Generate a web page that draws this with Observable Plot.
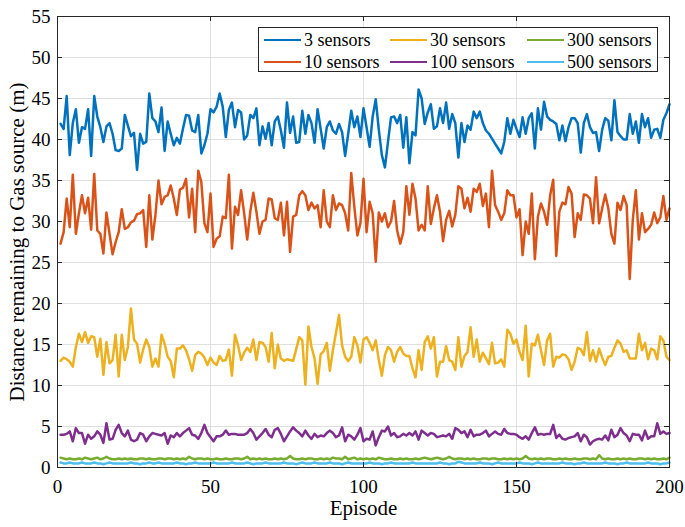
<!DOCTYPE html>
<html><head><meta charset="utf-8">
<script src="https://cdn.jsdelivr.net/npm/d3@7"></script>
<script src="https://cdn.jsdelivr.net/npm/@observablehq/plot@0.6"></script>
<style>
body{margin:0;background:#fff;}
#wrap{position:relative;width:685px;height:527px;}
#wrap svg text{font-family:"Liberation Serif","Times New Roman",serif;}
#legend{position:absolute;left:258px;top:27px;width:400px;height:45px;border:1px solid #262626;background:#fff;box-sizing:border-box;font-family:"Liberation Serif",serif;font-size:18px;color:#000;}
.item{position:absolute;display:flex;align-items:center;height:20px;white-space:nowrap;}
.sw{width:37px;height:0;border-top:2px solid;margin-right:3px;}
</style></head>
<body><div id="wrap"></div>
<script>
const seriesNames = ["3 sensors","10 sensors","30 sensors","100 sensors","300 sensors","500 sensors"];
const colors = ["#0072BD","#D95319","#EDB120","#7E2F8E","#77AC30","#4DBEEE"];
const xTicks = [0,50,100,150,200];
const yTicks = [0,5,10,15,20,25,30,35,40,45,50,55];
const xLabel = ["Episode"];
const yLabel = ["Distance remaining to Gas source (m)"];

const s3 = [41.9,41.3,45.3,38.1,42.0,43.7,39.6,41.5,41.3,43.7,38.0,45.3,42.8,41.5,39.7,41.6,42.0,40.7,38.7,38.6,38.9,43.0,41.7,40.4,40.8,36.3,40.7,39.5,39.7,45.6,42.6,42.2,40.9,43.9,38.6,42.2,40.7,39.3,40.2,39.5,41.3,43.0,42.9,41.1,40.9,43.0,38.3,39.3,40.7,
43.7,43.3,44.0,45.6,44.0,40.3,43.6,44.5,41.5,43.6,43.3,40.0,40.5,43.0,42.6,43.8,39.3,41.6,40.1,42.0,39.3,42.2,42.8,41.1,39.0,44.5,40.8,42.8,39.6,39.7,43.5,40.7,43.0,42.0,39.6,43.7,41.3,38.9,41.5,42.2,41.1,40.7,41.9,40.9,38.0,40.7,43.5,41.5,42.8,40.3,43.8,
41.5,39.1,42.8,44.9,41.2,38.1,36.6,39.7,42.7,42.8,42.0,43.0,39.0,42.7,37.1,40.9,40.5,46.1,45.0,41.9,43.3,44.3,41.3,41.6,43.8,42.0,44.5,41.3,43.1,42.0,37.8,42.0,39.7,41.7,41.2,43.4,42.6,43.4,42.0,41.1,40.7,40.1,39.5,38.9,38.3,39.7,42.6,40.7,42.4,41.3,
40.3,
42.7,40.7,42.6,43.2,38.9,43.8,41.2,44.6,42.8,42.4,42.2,41.9,39.9,41.7,39.8,41.5,42.6,42.6,42.0,38.4,42.0,43.1,41.5,40.8,40.9,38.6,41.2,42.6,42.3,39.9,44.8,40.9,40.4,40.0,40.0,43.1,40.7,42.2,39.6,43.1,41.5,42.6,40.2,41.2,41.3,40.2,42.4,43.2,44.3];

const s10 = [27.3,28.7,32.8,29.3,35.7,28.5,31.0,33.2,31.0,32.9,29.0,35.8,28.9,28.5,26.1,31.1,28.5,26.0,27.5,28.7,31.5,29.1,29.3,29.9,30.1,30.9,31.0,31.4,26.9,33.2,27.8,30.8,35.0,32.1,33.0,33.2,34.4,32.8,30.8,33.9,34.1,35.2,30.5,34.0,28.7,36.2,34.8,29.8,28.7,
33.4,26.9,27.9,28.2,30.6,30.4,35.7,26.7,31.8,30.8,33.8,31.0,27.8,31.2,33.5,31.2,28.5,30.0,30.2,32.8,32.7,30.4,30.2,32.3,28.3,32.4,26.3,30.6,30.8,33.2,33.7,33.2,31.4,32.3,31.6,32.0,29.3,33.8,30.0,29.3,33.2,31.4,32.2,32.0,31.0,28.9,35.9,31.8,28.3,29.8,35.2,
28.7,32.4,31.0,25.1,31.1,30.0,31.0,29.3,30.0,32.5,28.9,27.3,28.7,34.3,30.8,34.6,32.8,28.9,29.6,28.9,34.3,29.7,31.6,33.2,31.2,27.6,30.2,31.3,29.4,30.8,34.3,34.0,31.6,32.9,31.2,34.0,33.6,34.6,31.9,33.4,29.3,36.2,32.0,31.2,30.2,31.0,33.8,33.2,33.2,30.5,31.5,
25.9,30.0,28.5,33.4,25.4,30.6,32.2,31.2,29.6,33.2,35.1,25.8,31.2,32.3,32.1,34.2,33.4,28.1,31.0,30.2,33.3,33.2,32.8,29.8,35.4,29.8,31.6,33.3,31.6,28.5,27.3,32.3,31.4,33.1,32.0,23.0,30.2,33.8,27.8,31.0,28.7,29.1,29.6,31.1,29.8,30.5,33.1,30.2,31.6];

const s30 = [13.0,13.4,13.2,12.9,12.3,14.7,16.3,15.3,16.5,15.2,16.0,15.9,13.5,15.7,11.3,15.3,12.7,13.1,16.2,11.1,16.2,13.1,14.7,19.4,15.6,15.1,12.8,14.4,15.6,14.7,12.3,13.3,12.3,16.2,15.1,13.5,13.0,11.0,14.5,14.5,14.9,14.3,13.2,11.8,13.7,14.1,13.9,13.4,12.5,
13.4,12.8,12.5,13.6,13.0,13.1,14.4,11.2,16.2,14.9,13.1,14.0,14.6,14.1,15.6,13.1,15.3,15.2,14.7,12.9,16.4,12.1,15.0,13.3,13.0,13.2,13.1,13.0,14.4,15.9,15.5,10.1,17.2,14.7,13.3,10.2,13.8,14.2,15.2,11.8,14.3,16.4,18.6,14.9,13.5,13.0,13.5,15.9,14.9,12.8,15.6,
15.9,15.2,14.3,15.5,13.1,11.2,13.7,14.7,14.3,12.9,14.1,14.7,13.9,13.6,13.6,12.1,11.0,14.3,11.9,15.3,16.0,14.5,15.9,11.1,12.9,12.9,14.8,13.1,12.9,11.9,15.9,12.3,13.6,14.1,17.1,13.5,15.6,12.9,14.0,13.3,12.6,15.2,12.7,12.8,13.2,12.3,16.8,16.3,15.1,15.6,14.1,
13.1,17.3,11.1,15.1,14.9,16.2,14.3,12.5,15.5,16.3,12.3,13.5,13.4,13.8,13.7,13.2,11.9,12.9,14.6,14.4,13.7,16.5,13.0,14.3,12.9,14.5,13.4,12.5,13.5,13.6,14.6,15.5,15.1,14.1,14.3,13.3,13.3,13.3,16.3,14.3,15.2,13.2,14.5,14.3,13.2,16.0,15.5,13.5,13.1];

const s100 = [4.0,4.0,4.1,4.4,3.2,4.8,4.2,4.2,2.9,4.0,3.5,3.8,4.4,4.0,3.0,5.4,3.4,3.5,4.6,5.2,4.2,3.8,4.5,3.4,3.2,3.4,4.2,4.0,3.2,3.8,4.2,4.1,4.0,3.9,4.2,2.9,3.9,3.7,4.2,3.8,4.2,4.5,4.8,4.0,3.9,3.5,4.2,5.2,4.2,
3.7,3.2,3.8,3.8,4.0,4.5,4.0,4.1,4.1,4.0,4.0,4.0,4.2,4.7,4.2,3.4,3.8,4.2,4.7,4.0,3.7,4.6,4.8,4.1,3.2,3.8,4.4,4.9,4.5,4.2,3.8,4.5,3.9,3.5,4.1,3.7,3.9,3.8,4.2,4.5,4.2,3.7,3.9,4.9,3.2,4.0,3.8,3.4,4.0,4.8,3.2,
3.5,3.4,4.4,2.7,3.7,4.5,4.4,5.0,3.9,4.2,3.7,3.8,4.1,3.9,4.2,3.9,4.4,3.4,4.5,4.2,3.9,4.2,4.1,3.7,3.8,3.9,3.8,4.1,3.5,4.8,4.6,4.2,4.4,3.7,4.6,3.8,4.0,4.0,4.2,4.5,3.8,4.1,4.4,4.1,4.0,4.7,4.2,4.1,4.1,4.0,3.7,
3.5,3.8,3.4,4.2,4.9,4.0,4.1,4.0,4.1,4.1,5.2,3.6,4.0,3.5,3.4,3.6,3.7,3.8,4.2,3.2,4.0,3.7,2.8,3.2,3.4,3.5,3.4,3.9,3.3,4.6,3.7,4.0,4.8,4.2,3.9,3.2,4.1,4.0,4.0,3.3,4.5,3.5,3.8,3.8,5.4,4.1,4.4,4.1,4.2];

const s300 = [1.2,1.1,1.0,1.1,1.0,1.0,1.1,1.0,1.2,1.1,
1.0,1.1,1.2,1.0,1.1,1.3,1.1,1.0,1.0,1.1,
1.0,1.1,1.0,1.1,1.0,1.0,1.1,1.1,1.0,1.1,
1.0,1.0,1.1,1.1,1.0,1.1,1.1,1.0,1.1,1.0,
1.1,1.0,1.3,1.1,1.0,1.1,1.1,1.0,1.1,1.0,
1.0,1.1,1.0,1.0,1.1,1.0,1.0,1.1,1.1,1.0,
1.1,1.3,1.0,1.1,1.0,1.1,1.0,1.1,1.0,1.0,
1.1,1.0,1.1,1.0,1.1,1.4,1.1,1.0,1.0,1.1,
1.0,1.1,1.1,1.0,1.0,1.1,1.0,1.1,1.0,1.2,
1.1,1.1,1.0,1.3,1.0,1.1,1.2,1.0,1.1,1.0,
1.1,1.0,1.1,1.0,1.2,1.1,1.0,1.0,1.1,1.0,
1.0,1.1,1.0,1.1,1.0,1.0,1.1,1.0,1.1,1.2,
1.1,1.0,1.1,1.2,1.1,1.0,1.1,1.3,1.1,1.0,
1.1,1.1,1.0,1.1,1.0,1.1,1.0,1.0,1.1,1.1,
1.0,1.1,1.1,1.0,1.0,1.1,1.0,1.1,1.0,1.1,
1.0,1.1,1.4,1.1,1.0,1.1,1.0,1.1,1.0,1.1,
1.1,1.0,1.0,1.1,1.0,1.1,1.0,1.0,1.1,1.0,
1.0,1.1,1.1,1.0,1.1,1.0,1.5,1.1,1.0,1.1,
1.0,1.0,1.1,1.0,1.1,1.0,1.1,1.0,1.0,1.1,
1.1,1.0,1.1,1.0,1.1,1.0,1.0,1.1,1.0,1.2];

const s500 = [0.6,0.5,0.5,0.6,0.5,0.5,0.5,0.6,0.5,0.5,
0.5,0.6,0.5,0.5,0.4,0.5,0.6,0.5,0.5,0.5,
0.5,0.5,0.5,0.6,0.5,0.5,0.4,0.5,0.5,0.6,
0.5,0.5,0.6,0.5,0.5,0.5,0.5,0.5,0.6,0.5,
0.5,0.4,0.5,0.5,0.6,0.5,0.5,0.5,0.5,0.5,
0.6,0.5,0.5,0.5,0.5,0.5,0.6,0.5,0.5,0.5,
0.5,0.6,0.5,0.4,0.5,0.5,0.5,0.6,0.5,0.5,
0.5,0.5,0.5,0.6,0.5,0.5,0.5,0.4,0.5,0.6,
0.5,0.5,0.5,0.6,0.5,0.5,0.5,0.5,0.6,0.5,
0.5,0.5,0.4,0.5,0.6,0.5,0.5,0.5,0.5,0.5,
0.5,0.6,0.5,0.5,0.5,0.4,0.5,0.5,0.6,0.5,
0.5,0.5,0.5,0.5,0.5,0.6,0.5,0.5,0.5,0.5,
0.5,0.5,0.5,0.5,0.6,0.5,0.5,0.4,0.5,0.5,
0.7,0.6,0.5,0.5,0.5,0.5,0.5,0.6,0.5,0.5,
0.5,0.4,0.5,0.6,0.5,0.5,0.5,0.5,0.5,0.5,
0.6,0.5,0.5,0.5,0.4,0.5,0.6,0.5,0.5,0.5,
0.5,0.5,0.5,0.5,0.6,0.5,0.5,0.5,0.4,0.5,
0.5,0.6,0.5,0.5,0.5,0.5,0.5,0.5,0.6,0.5,
0.5,0.5,0.4,0.5,0.5,0.6,0.5,0.5,0.5,0.5,
0.5,0.5,0.6,0.5,0.5,0.5,0.4,0.5,0.5,0.6];

const allSeries = [s3, s10, s30, s100, s300, s500];
const rows = [];
allSeries.forEach((vals, i) => vals.forEach((v, j) => rows.push({episode: j + 1, value: v, series: seriesNames[i]})));

const axisColor = "#262626";
const font = '"Liberation Serif", "Times New Roman", serif';
const chart = Plot.plot({
  width: 685, height: 527,
  marginLeft: 57, marginRight: 16, marginTop: 16, marginBottom: 60,
  style: {fontFamily: font, background: "#fff", color: axisColor},
  x: {domain: [0, 200]},
  y: {domain: [0, 55]},
  color: {domain: seriesNames, range: colors},
  marks: [
    Plot.gridX(xTicks, {stroke: "#dfdfdf", strokeOpacity: 1}),
    Plot.gridY(yTicks, {stroke: "#dfdfdf", strokeOpacity: 1}),
    Plot.line(rows, {x: "episode", y: "value", z: "series", stroke: "series", strokeWidth: 2.5, strokeLinejoin: "round"}),
    Plot.axisX(xTicks, {tickSize: 0, tickPadding: 12, fontSize: 19, label: null, fill: "#000"}),
    Plot.axisY(yTicks, {tickSize: 0, tickPadding: 7, fontSize: 19, label: null, fill: "#000"}),
    Plot.tickX(xTicks, {x: d => d, insetTop: 446, stroke: axisColor}),
    Plot.tickX(xTicks, {x: d => d, insetBottom: 446, stroke: axisColor}),
    Plot.tickY(yTicks, {y: d => d, insetRight: 607, stroke: axisColor}),
    Plot.tickY(yTicks, {y: d => d, insetLeft: 607, stroke: axisColor}),
    Plot.frame({stroke: axisColor}),
    Plot.text(xLabel, {frameAnchor: "bottom", dy: 47, fontSize: 21, fill: "#000"}),
    Plot.text(yLabel, {frameAnchor: "left", textAnchor: "middle", dx: -40, rotate: -90, fontSize: 21, fill: "#000"})
  ]
});
const wrap = document.getElementById("wrap");
wrap.appendChild(chart);

// legend (3 columns x 2 rows, column-major like MATLAB)
const legend = document.createElement("div");
legend.id = "legend";
const colX = [5, 131, 268];
const rowY = [2, 24];
seriesNames.forEach((name, i) => {
  const col = Math.floor(i / 2), row = i % 2;
  const item = document.createElement("div");
  item.className = "item";
  item.style.left = colX[col] + "px";
  item.style.top = rowY[row] + "px";
  const sw = document.createElement("span");
  sw.className = "sw";
  sw.style.borderTopColor = colors[i];
  const tx = document.createElement("span");
  tx.textContent = name;
  item.appendChild(sw);
  item.appendChild(tx);
  legend.appendChild(item);
});
wrap.appendChild(legend);
</script>
</body></html>
